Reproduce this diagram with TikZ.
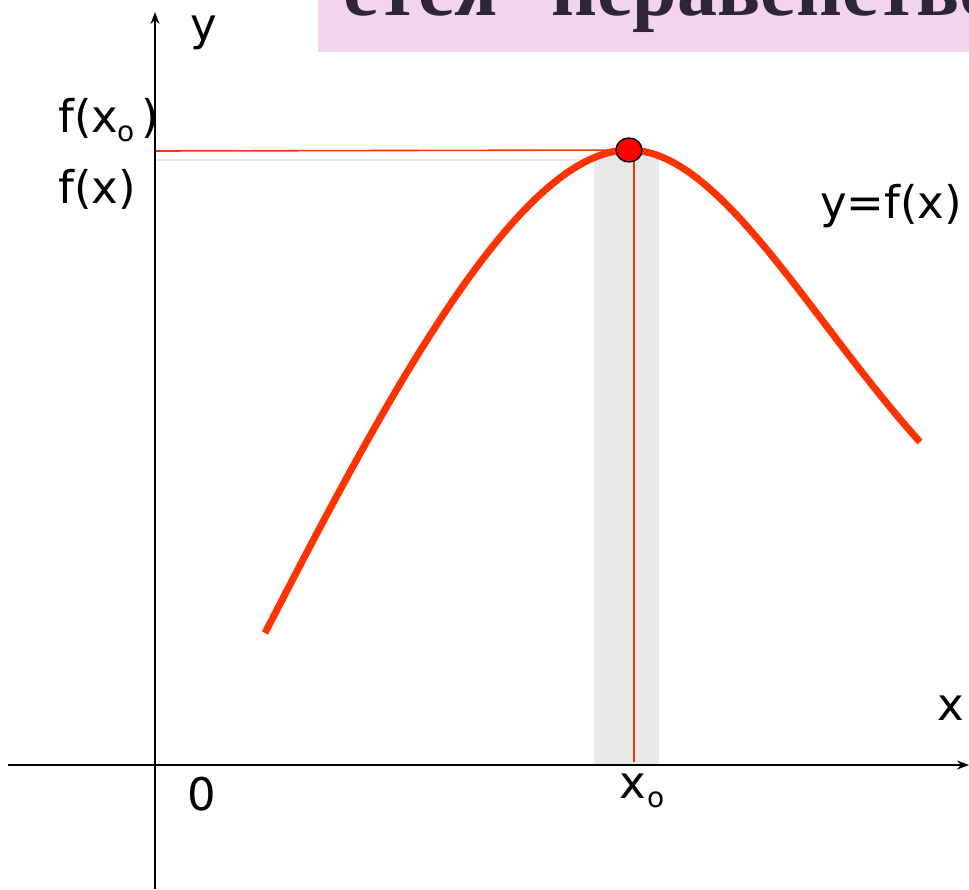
\documentclass[tikz,border=0pt]{standalone}
\usepackage{fontspec}
\setmainfont{DejaVu Sans}
\newfontfamily\bannerfont{Liberation Serif}
\usetikzlibrary{arrows.meta}
\definecolor{curvered}{HTML}{FF3300}
\definecolor{bandgray}{HTML}{E9E9E9}
\definecolor{bannerpink}{HTML}{F2D4EC}
\definecolor{bannertext}{HTML}{2E2636}
\tikzset{
  axis/.style={draw=black, line width=1.6pt, -{Stealth[length=12pt,width=9pt]}},
  lbl/.style={font=\fontsize{45}{50}\selectfont, inner sep=0pt, anchor=base west},
  sub/.style={font=\fontsize{28}{30}\selectfont, inner sep=0pt, anchor=base west},
  bannerlbl/.style={font=\bannerfont\bfseries\fontsize{80}{84}\selectfont, text=bannertext, inner sep=0pt, anchor=base west},
  guide/.style={line width=1.6pt},
}
\begin{document}
\begin{tikzpicture}[x=1pt,y=-1pt]
\useasboundingbox (0,0) rectangle (969,889);
% banner
\begin{scope}
  \clip (318,0) rectangle (969,52);
  \fill[bannerpink] (318,0) rectangle (969,52);
  \node[bannerlbl] (bannerA) at (343,15) {ется};
  \node[bannerlbl] (bannerB) at (551,15) {неравенство};
\end{scope}
% band
\fill[bandgray] (594,155) rectangle (659,765);
% guides
\coordinate (fx0) at (155,151);
\coordinate (fx) at (155,160);
\coordinate (xo) at (634,762);
\node[circle, inner sep=0pt, minimum size=0pt] (top) at (629,150) {};
\draw[guide, draw=bandgray] (fx) -- (629,160);
\draw[guide, draw=curvered] (fx0) -- (top.center);
\draw[line width=1.6pt, draw=curvered] (634,152) -- (xo);
% axes
\coordinate (xs) at (8,765);
\coordinate (xe) at (969,765);
\coordinate (ys) at (155,889);
\coordinate (ye) at (155,12);
\draw[axis] (xs) -- (xe);
\draw[axis] (ys) -- (ye);
% curve
\draw[curvered, line width=7pt] (265,633) .. controls (390,390) and (520,150) .. (top.center)
  .. controls (720,150) and (810,320) .. (920,442);
% point
\draw[fill=red, draw=black, line width=1.4pt] (629,150) ellipse (13 and 12);
% labels
\node[lbl] (ylab) at (190,40) {y};
\node[lbl] (xlab) at (937,720) {x};
\node[lbl] (zero) at (187,810) {0};
\node[lbl] (xo1) at (619,798) {x};
\node[sub] (xo2) at (647,807) {o};
\node[lbl] (fxlab) at (58,203) {f(x)};
\node[lbl] (fx0a) at (58,132) {f(x};
\node[sub] (fx0b) at (117,141) {o};
\node[lbl] (fx0c) at (141,132) {)};
\node[lbl] (curvelab) at (820,218) {y=f(x)};
\end{tikzpicture}
\end{document}
